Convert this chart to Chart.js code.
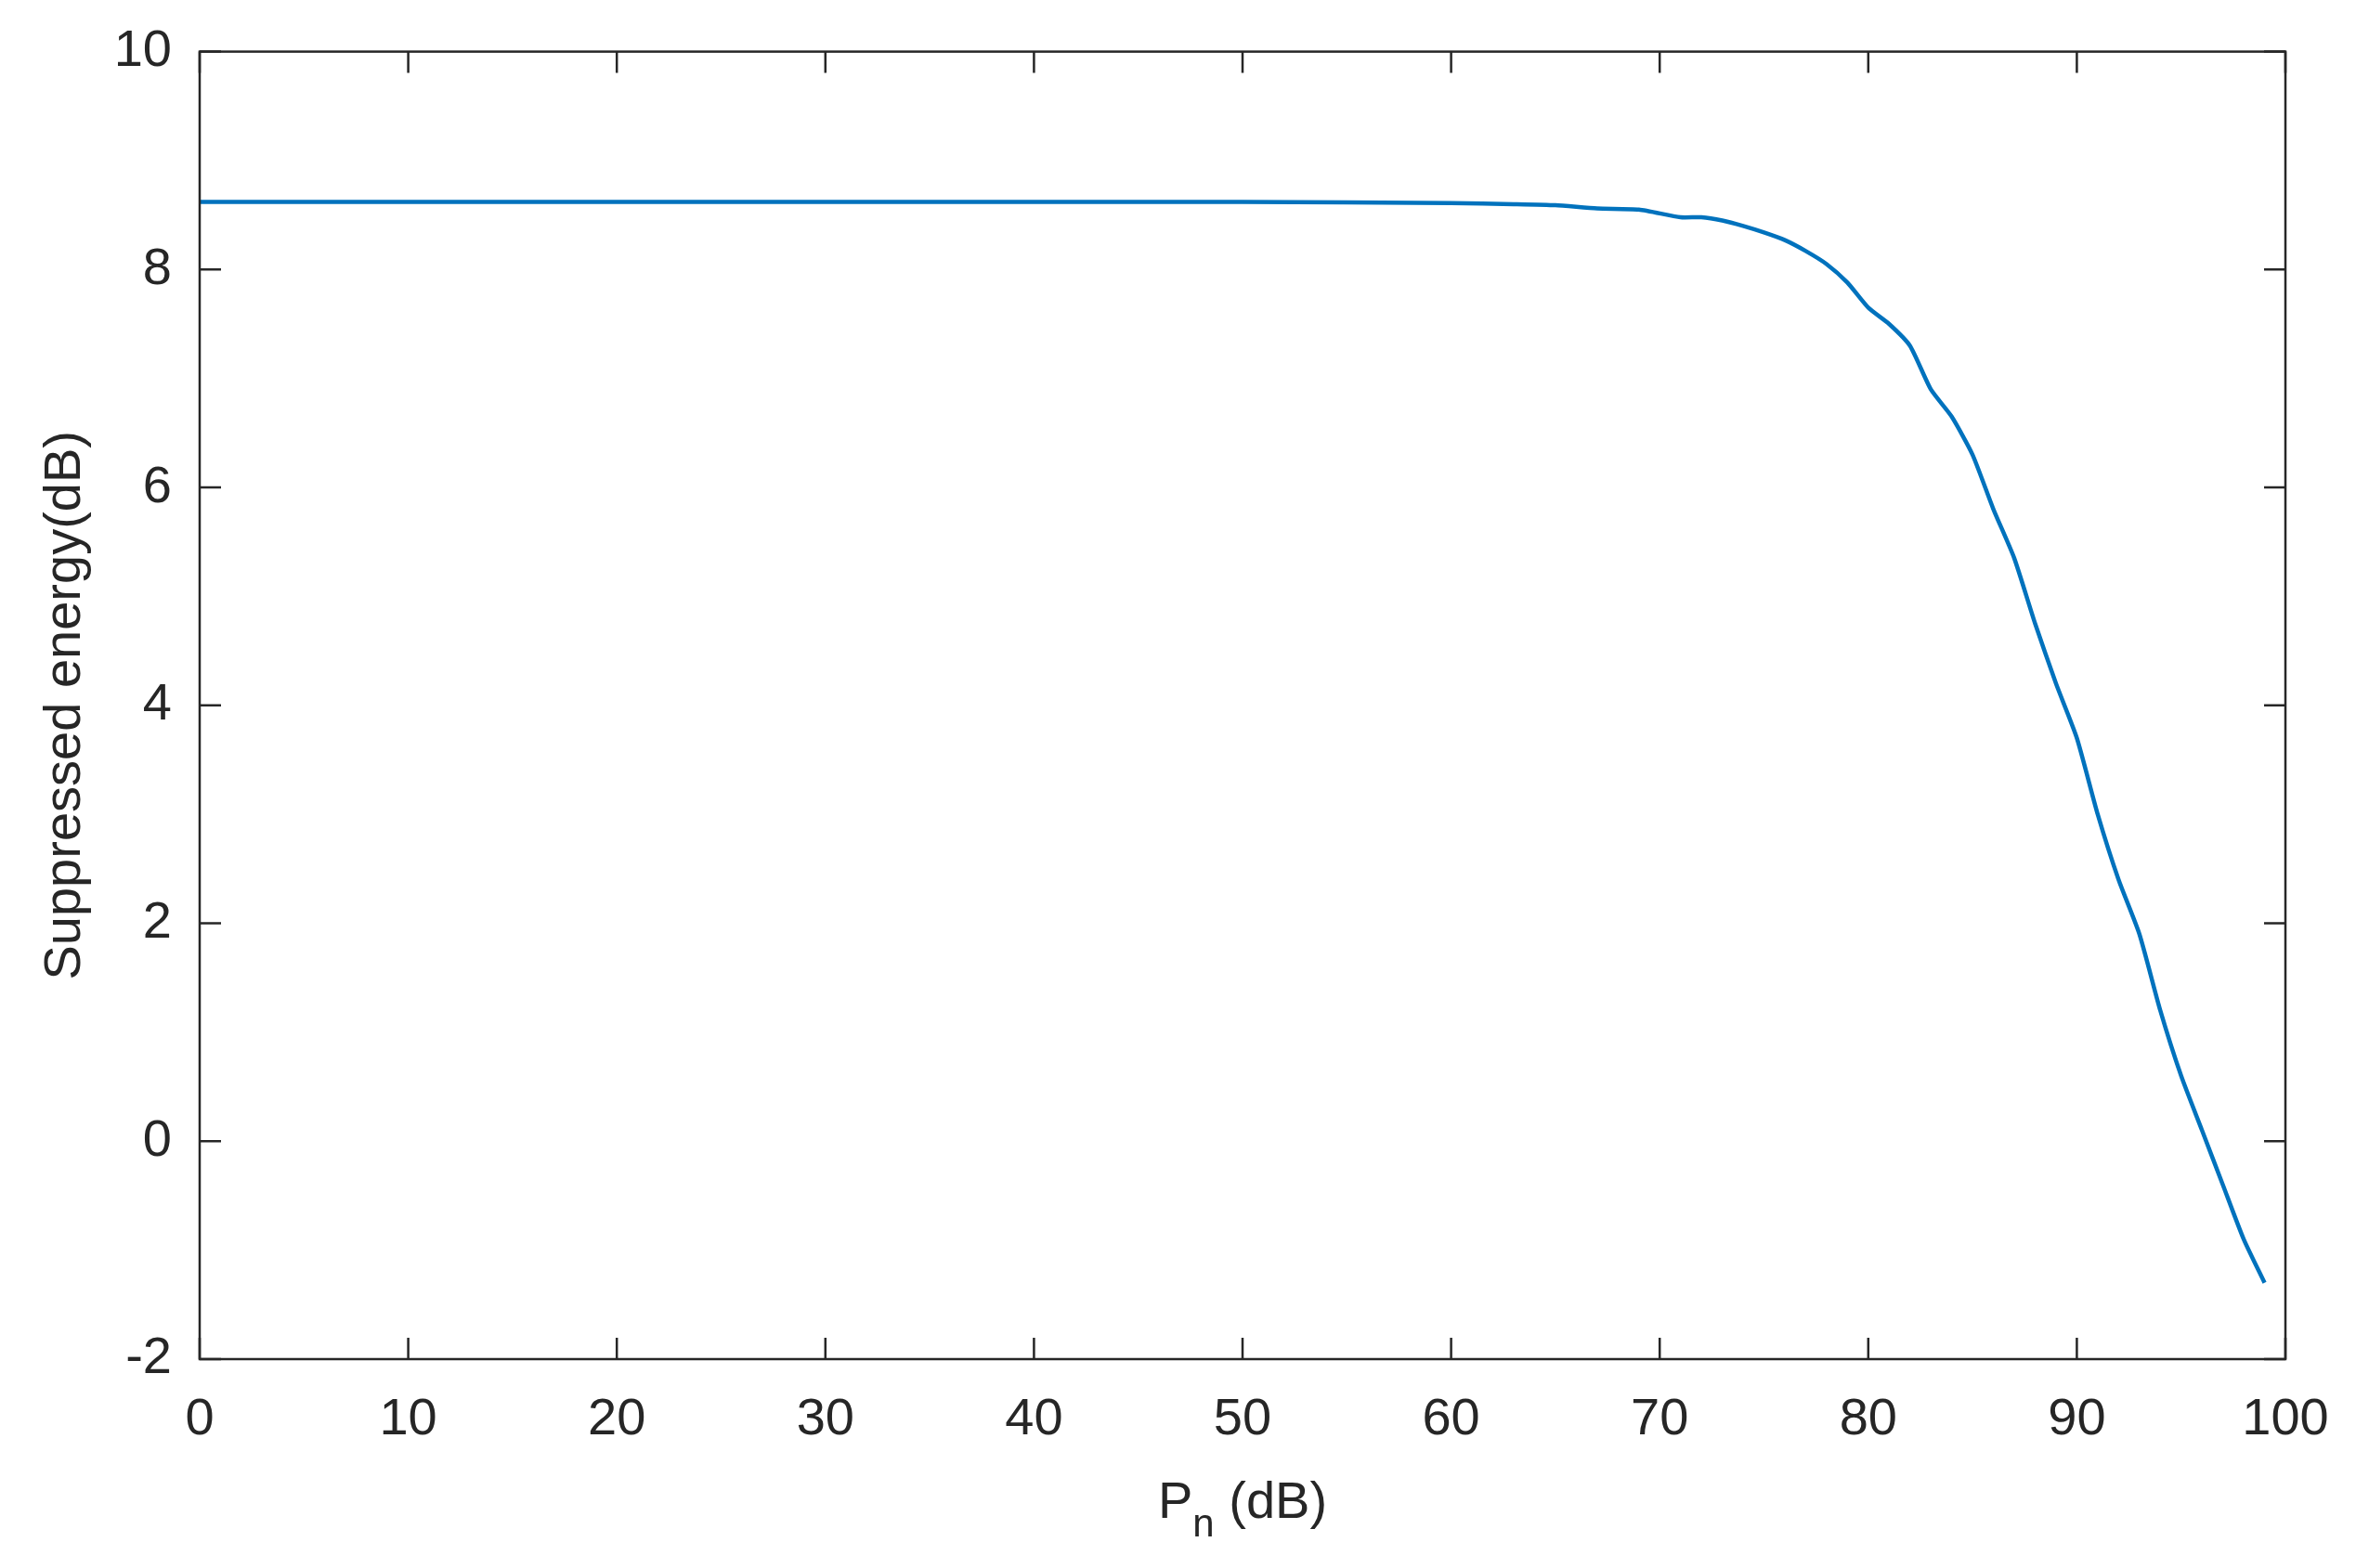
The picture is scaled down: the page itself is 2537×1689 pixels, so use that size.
<!DOCTYPE html>
<html>
<head>
<meta charset="utf-8">
<script src="https://cdn.jsdelivr.net/npm/chart.js@4/dist/chart.umd.min.js"></script>
<style>
  html, body { margin: 0; padding: 0; background: #fff; }
  #wrap { width: 2537px; height: 1689px; }
</style>
</head>
<body>
<div id="wrap"><canvas id="chart"></canvas></div>
<script>
// Pn (dB) and suppressed energy (dB)
const pn = [0, 10, 20, 30, 40, 50, 60, 63, 65, 67, 69, 71, 72, 73, 74, 75, 76, 77, 78, 79, 80, 81, 82, 83, 84, 85, 86, 87, 88, 89, 90, 91, 92, 93, 94, 95, 96, 97, 98, 99];
const energy = [8.62, 8.62, 8.62, 8.62, 8.62, 8.62, 8.61, 8.60, 8.59, 8.56, 8.55, 8.48, 8.48, 8.45, 8.40, 8.34, 8.27, 8.17, 8.05, 7.88, 7.65, 7.50, 7.30, 6.90, 6.65, 6.30, 5.80, 5.35, 4.75, 4.20, 3.70, 3.00, 2.40, 1.90, 1.20, 0.60, 0.10, -0.40, -0.90, -1.30];
const xTicks = [0, 10, 20, 30, 40, 50, 60, 70, 80, 90, 100];
const yTicks = [-2, 0, 2, 4, 6, 8, 10];

const textColor = '#262626';
const fontFamily = '"Liberation Sans", Arial, sans-serif';

// MATLAB style box with inward ticks on all four sides, plus axis titles
const boxPlugin = {
  id: 'box',
  afterDraw(chart) {
    const { ctx, chartArea: a, scales } = chart;
    const len = 23;
    ctx.save();
    ctx.strokeStyle = '#262626';
    ctx.lineWidth = 2.5;
    ctx.strokeRect(a.left, a.top, a.right - a.left, a.bottom - a.top);
    ctx.beginPath();
    xTicks.forEach(v => {
      const x = scales.x.getPixelForValue(v);
      ctx.moveTo(x, a.bottom); ctx.lineTo(x, a.bottom - len);
      ctx.moveTo(x, a.top); ctx.lineTo(x, a.top + len);
    });
    yTicks.forEach(v => {
      const y = scales.y.getPixelForValue(v);
      ctx.moveTo(a.left, y); ctx.lineTo(a.left + len, y);
      ctx.moveTo(a.right, y); ctx.lineTo(a.right - len, y);
    });
    ctx.stroke();

    ctx.fillStyle = textColor;
    ctx.textBaseline = 'alphabetic';
    // x title: P_n (dB)
    const cx = (a.left + a.right) / 2;
    const base = 1635;
    ctx.font = '56px ' + fontFamily;
    const wP = ctx.measureText('P').width;
    ctx.font = '42px ' + fontFamily;
    const wn = ctx.measureText('n').width;
    ctx.font = '56px ' + fontFamily;
    const wr = ctx.measureText(' (dB)').width;
    let x0 = cx - (wP + wn + wr) / 2;
    ctx.textAlign = 'left';
    ctx.fillText('P', x0, base);
    ctx.font = '42px ' + fontFamily;
    ctx.fillText('n', x0 + wP, base + 20);
    ctx.font = '56px ' + fontFamily;
    ctx.fillText(' (dB)', x0 + wP + wn, base);
    // y title
    ctx.translate(86, (a.top + a.bottom) / 2);
    ctx.rotate(-Math.PI / 2);
    ctx.textAlign = 'center';
    ctx.fillText('Suppressed energy(dB)', 0, 0);
    ctx.restore();
  }
};

new Chart(document.getElementById('chart'), {
  type: 'line',
  plugins: [boxPlugin],
  data: {
    datasets: [{
      data: pn.map((x, i) => ({ x: x, y: energy[i] })),
      borderColor: '#0072BD',
      borderWidth: 4.5,
      pointRadius: 0,
      tension: 0.2,
      fill: false
    }]
  },
  options: {
    responsive: true,
    maintainAspectRatio: false,
    animation: false,
    layout: { padding: { left: 0, top: 53, right: 76, bottom: 0 } },
    plugins: { legend: { display: false }, tooltip: { enabled: false } },
    scales: {
      x: {
        type: 'linear', min: 0, max: 100,
        afterBuildTicks: s => { s.ticks = xTicks.map(v => ({ value: v })); },
        afterFit: s => { s.height = 225; },
        grid: { display: false },
        border: { display: false },
        ticks: { color: textColor, padding: 24, maxRotation: 0, font: { size: 56, family: fontFamily } }
      },
      y: {
        type: 'linear', min: -2, max: 10,
        afterBuildTicks: s => { s.ticks = yTicks.map(v => ({ value: v })); },
        afterFit: s => { s.width = 215; },
        grid: { display: false },
        border: { display: false },
        ticks: { color: textColor, padding: 22, font: { size: 56, family: fontFamily } }
      }
    }
  }
});
</script>
</body>
</html>
